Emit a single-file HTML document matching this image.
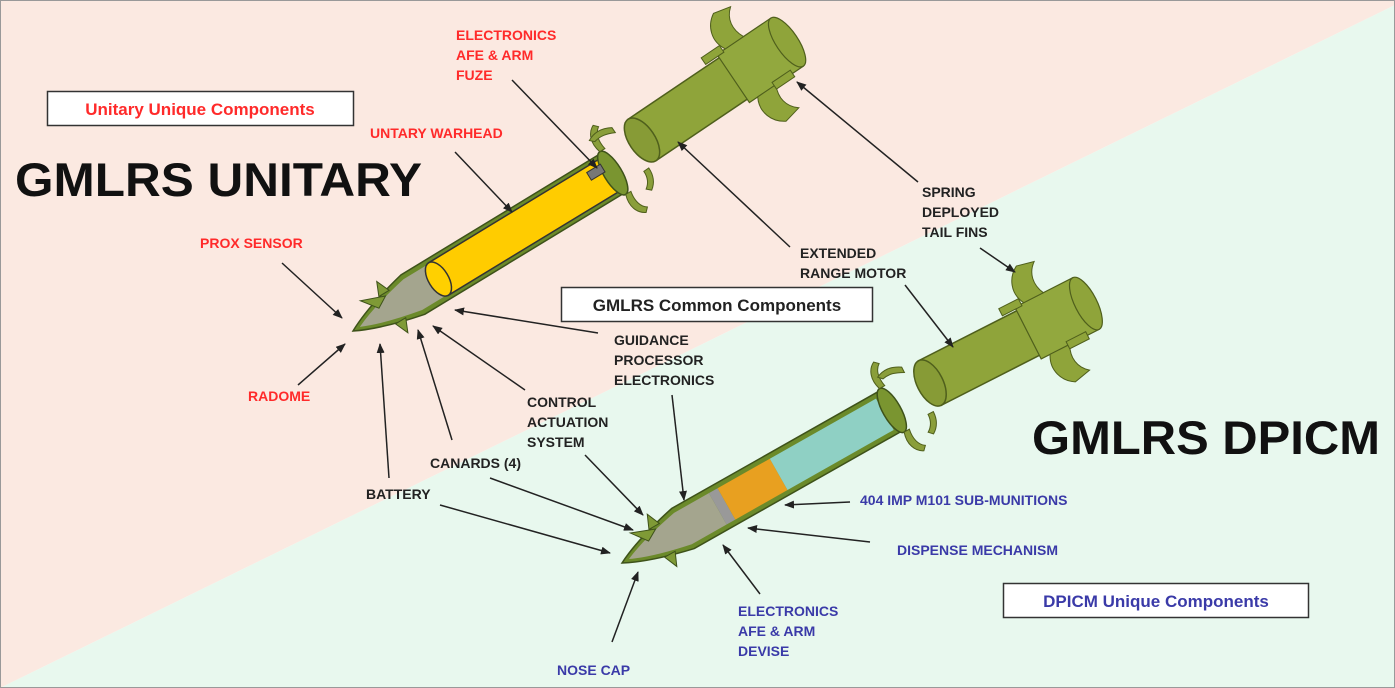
<!DOCTYPE html>
<html><head><meta charset="utf-8"><style>
html,body{margin:0;padding:0;width:1395px;height:688px;overflow:hidden;background:#fff}
svg{display:block}
text{font-family:"Liberation Sans",Arial,sans-serif;font-weight:bold}
.r{fill:#ff2a2a;font-size:14px}
.k{fill:#222;font-size:14px}
.b{fill:#3a3aa8;font-size:14px}
</style></head><body>
<svg width="1395" height="688" viewBox="0 0 1395 688" xmlns="http://www.w3.org/2000/svg">
<defs>
<marker id="a" markerWidth="10" markerHeight="8" refX="9" refY="4" orient="auto" markerUnits="userSpaceOnUse">
<path d="M0,0 L10,4 L0,8 Z" fill="#222"/></marker>
<g id="motor">
<path d="M0,-25 L150,-25 L150,25 L0,25 Z" fill="#8fa43a" stroke="#4f5f1c" stroke-width="1.5"/>
<ellipse cx="0" cy="0" rx="13" ry="25" fill="#879b36" stroke="#4f5f1c" stroke-width="1.5"/>
<path d="M110,-29 L175,-29 L175,29 L110,29 Z" fill="#92a83e" stroke="#4f5f1c" stroke-width="1.2"/>
<ellipse cx="175" cy="0" rx="11" ry="29" fill="#8fa43a" stroke="#4f5f1c" stroke-width="1.2"/>
<path d="M120,-29 C112,-43 118,-58 130,-65 L148,-61 C138,-53 136,-41 142,-29 Z" fill="#8fa43a" stroke="#4f5f1c"/>
<path d="M120,29 C112,43 118,58 130,65 L148,61 C138,53 136,41 142,29 Z" fill="#8fa43a" stroke="#4f5f1c"/>
<rect x="95" y="-35" width="22" height="8" fill="#8fa43a" stroke="#4f5f1c"/>
<rect x="140" y="25" width="22" height="8" fill="#8fa43a" stroke="#4f5f1c"/>
<path d="M-18,-27 C-28,-33 -36,-33 -44,-29 L-40,-25 C-32,-27 -26,-25 -18,-21 Z" fill="#8a9e3a" stroke="#4f5f1c"/>
<path d="M-10,27 C-10,37 -14,43 -20,47 L-24,43 C-18,39 -16,33 -16,27 Z" fill="#8a9e3a" stroke="#4f5f1c"/>
</g>
</defs>
<polygon points="0,0 1395,0 1395,5 0,688" fill="#fbe9e1"/>
<polygon points="1395,5 1395,688 0,688" fill="#e8f8ee"/>
<rect x="0.5" y="0.5" width="1394" height="687" fill="none" stroke="#999" stroke-width="1"/>

<!-- top missile -->
<g transform="translate(353,331) rotate(-31.3)">
<path d="M0,0 Q25,-13 70,-23 L304,-23 L304,23 L70,23 Q25,13 0,0 Z" fill="#6b8a2a" stroke="#3e521a" stroke-width="1.5"/>
<path d="M8,0 Q30,-10 70,-18 L110,-18 L110,18 L70,18 Q30,10 8,0 Z" fill="#a4a58e"/>
<rect x="100" y="-19" width="202" height="38" fill="#ffcc00" stroke="#333" stroke-width="1.5"/>
<ellipse cx="100" cy="0" rx="10" ry="19" fill="#ffd000" stroke="#333" stroke-width="1.5"/>
<ellipse cx="304" cy="0" rx="9" ry="25" fill="#7a9530" stroke="#3e521a" stroke-width="1.5"/>
<rect x="282" y="-14" width="16" height="9" fill="#777" stroke="#333"/>
<path d="M40,-16 L46,-30 L52,-16 Z M40,16 L46,30 L52,16 Z M34,-6 L22,-22 L46,-13 Z" fill="#7f9a36" stroke="#3e521a"/>
<path d="M304,-25 C300,-37 304,-47 312,-51 L316,-47 C310,-43 308,-35 310,-25 Z M304,25 C300,37 304,47 312,51 L316,47 C310,43 308,35 310,25 Z" fill="#8a9e3a" stroke="#4f5f1c"/>
</g>
<g transform="translate(642,140) rotate(-34)"><use href="#motor"/></g>

<!-- bottom missile -->
<g transform="translate(622,563) rotate(-29.5)">
<path d="M0,0 Q25,-13 70,-23 L310,-23 L310,23 L70,23 Q25,13 0,0 Z" fill="#6b8a2a" stroke="#3e521a" stroke-width="1.5"/>
<path d="M8,0 Q30,-10 70,-18 L110,-18 L110,18 L70,18 Q30,10 8,0 Z" fill="#a4a58e"/>
<rect x="110" y="-18" width="10" height="36" fill="#999"/>
<rect x="120" y="-18" width="60" height="36" fill="#e8a020"/>
<rect x="180" y="-18" width="122" height="36" fill="#8fd0c4"/>
<ellipse cx="310" cy="0" rx="9" ry="25" fill="#7a9530" stroke="#3e521a" stroke-width="1.5"/>
<path d="M40,-16 L46,-30 L52,-16 Z M40,16 L46,30 L52,16 Z M34,-6 L22,-22 L46,-13 Z" fill="#7f9a36" stroke="#3e521a"/>
<path d="M310,-25 C306,-37 310,-47 318,-51 L322,-47 C316,-43 314,-35 316,-25 Z M310,25 C306,37 310,47 318,51 L322,47 C316,43 314,35 316,25 Z" fill="#8a9e3a" stroke="#4f5f1c"/>
</g>
<g transform="translate(930,383) rotate(-27)"><use href="#motor"/></g>

<!-- boxes -->
<rect x="47.5" y="91.5" width="306" height="34" fill="#fff" stroke="#333" stroke-width="1.5"/>
<text x="200" y="115" text-anchor="middle" style="fill:#ff2a2a;font-size:17px">Unitary Unique Components</text>
<rect x="561.5" y="287.5" width="311" height="34" fill="#fff" stroke="#333" stroke-width="1.5"/>
<text x="717" y="311" text-anchor="middle" style="fill:#222;font-size:17px">GMLRS Common Components</text>
<rect x="1003.5" y="583.5" width="305" height="34" fill="#fff" stroke="#333" stroke-width="1.5"/>
<text x="1156" y="607" text-anchor="middle" style="fill:#3a3aa8;font-size:17px">DPICM Unique Components</text>

<text x="15" y="196" textLength="407" lengthAdjust="spacingAndGlyphs" style="font-size:47px;fill:#111">GMLRS UNITARY</text>
<text x="1032" y="454" textLength="348" lengthAdjust="spacingAndGlyphs" style="font-size:47px;fill:#111">GMLRS DPICM</text>

<text class="r" x="456" y="40">ELECTRONICS</text>
<text class="r" x="456" y="60">AFE &amp; ARM</text>
<text class="r" x="456" y="80">FUZE</text>
<text class="r" x="370" y="138">UNTARY WARHEAD</text>
<text class="r" x="200" y="248">PROX SENSOR</text>
<text class="r" x="248" y="401">RADOME</text>

<text class="k" x="614" y="345">GUIDANCE</text>
<text class="k" x="614" y="365">PROCESSOR</text>
<text class="k" x="614" y="385">ELECTRONICS</text>
<text class="k" x="527" y="407">CONTROL</text>
<text class="k" x="527" y="427">ACTUATION</text>
<text class="k" x="527" y="447">SYSTEM</text>
<text class="k" x="430" y="468">CANARDS (4)</text>
<text class="k" x="366" y="499">BATTERY</text>
<text class="k" x="800" y="258">EXTENDED</text>
<text class="k" x="800" y="278">RANGE MOTOR</text>
<text class="k" x="922" y="197">SPRING</text>
<text class="k" x="922" y="217">DEPLOYED</text>
<text class="k" x="922" y="237">TAIL FINS</text>

<text class="b" x="860" y="505">404 IMP M101 SUB-MUNITIONS</text>
<text class="b" x="897" y="555">DISPENSE MECHANISM</text>
<text class="b" x="738" y="616">ELECTRONICS</text>
<text class="b" x="738" y="636">AFE &amp; ARM</text>
<text class="b" x="738" y="656">DEVISE</text>
<text class="b" x="557" y="675">NOSE CAP</text>

<g stroke="#222" stroke-width="1.5" marker-end="url(#a)" fill="none">
<line x1="512" y1="80" x2="597" y2="168"/>
<line x1="455" y1="152" x2="512" y2="212"/>
<line x1="282" y1="263" x2="342" y2="318"/>
<line x1="298" y1="385" x2="345" y2="344"/>
<line x1="389" y1="478" x2="380" y2="344"/>
<line x1="452" y1="440" x2="418" y2="330"/>
<line x1="525" y1="390" x2="433" y2="326"/>
<line x1="598" y1="333" x2="455" y2="310"/>
<line x1="790" y1="247" x2="678" y2="142"/>
<line x1="918" y1="182" x2="797" y2="82"/>
<line x1="980" y1="248" x2="1015" y2="272"/>
<line x1="905" y1="285" x2="953" y2="347"/>
<line x1="672" y1="395" x2="684" y2="500"/>
<line x1="585" y1="455" x2="643" y2="515"/>
<line x1="490" y1="478" x2="633" y2="530"/>
<line x1="440" y1="505" x2="610" y2="553"/>
<line x1="612" y1="642" x2="638" y2="572"/>
<line x1="760" y1="594" x2="723" y2="545"/>
<line x1="870" y1="542" x2="748" y2="528"/>
<line x1="850" y1="502" x2="785" y2="505"/>
</g>
</svg>
</body></html>
